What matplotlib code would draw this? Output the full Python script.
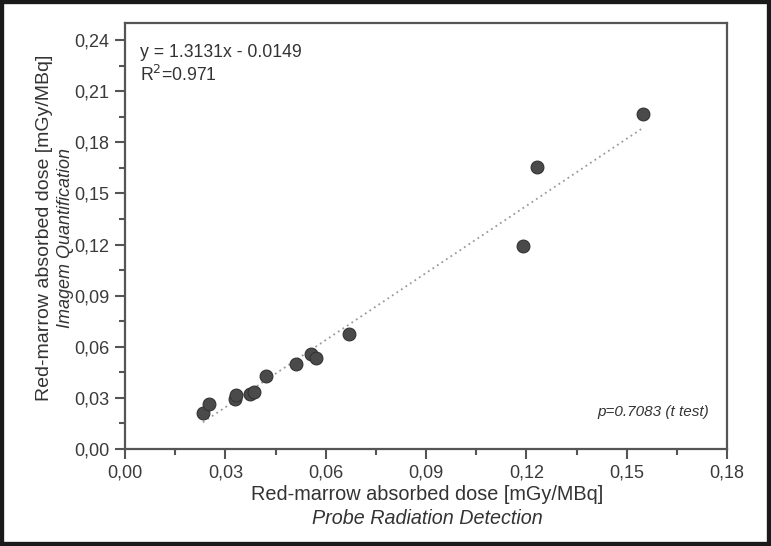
import matplotlib.pyplot as plt
import numpy as np
from matplotlib.patches import Rectangle
from matplotlib.ticker import MultipleLocator, FuncFormatter

plt.rcParams['font.family'] = ['Liberation Sans', 'DejaVu Sans']

# dose values
probe = [0.0233, 0.0251, 0.0330, 0.0333, 0.0374, 0.0386, 0.0423, 0.0511,
         0.0556, 0.0571, 0.0670, 0.1190, 0.1231, 0.1549]
imagem = [0.0211, 0.0264, 0.0295, 0.0315, 0.0323, 0.0334, 0.0431, 0.0496,
          0.0557, 0.0534, 0.0675, 0.1194, 0.1652, 0.1966]
slope, intercept = 1.3131, -0.0149

fig = plt.figure(figsize=(7.71, 5.46), dpi=100)
ax = fig.add_axes([125/771, 1 - 449/546, 602/771, 426/546])

# linha de ajuste
xs = np.array([min(probe), max(probe)])
ax.plot(xs, slope*xs + intercept, linestyle=(0, (1, 2)), color='#9a9a9a', linewidth=1.3)
ax.scatter(probe, imagem, s=85, color='#4a4a4a', edgecolors='#333333', linewidths=0.8, zorder=3)

ax.set_xlim(0, 0.18)
ax.set_ylim(0, 0.25)
ax.xaxis.set_major_locator(MultipleLocator(0.03))
ax.xaxis.set_minor_locator(MultipleLocator(0.015))
ax.yaxis.set_major_locator(MultipleLocator(0.03))
ax.yaxis.set_minor_locator(MultipleLocator(0.015))
fmt = FuncFormatter(lambda v, p: f'{v:.2f}'.replace('.', ','))
ax.xaxis.set_major_formatter(fmt)
ax.yaxis.set_major_formatter(fmt)

for s in ax.spines.values():
    s.set_color('#555555')
    s.set_linewidth(1.6)
ax.tick_params(which='major', direction='out', length=7, width=1.5, color='#555555',
               labelsize=13, labelcolor='#3a3a3a', pad=4)
ax.tick_params(which='minor', direction='out', length=4, width=1.5, color='#555555')

ax.text(0.025, 0.93, 'y = 1.3131x - 0.0149', transform=ax.transAxes, fontsize=12.7,
        color='#333333', va='center')
ax.text(0.025, 0.878, r'R$^2$=0.971', transform=ax.transAxes, fontsize=12.7,
        color='#333333', va='center')
ax.text(0.97, 0.088, 'p=0.7083 (t test)', transform=ax.transAxes, fontsize=11,
        color='#333333', style='italic', ha='right', va='center')

fig.text(427/771, 1 - 495/546, 'Red-marrow absorbed dose [mGy/MBq]', fontsize=14.3,
         color='#333333', ha='center', va='center')
fig.text(427/771, 1 - 518/546, 'Probe Radiation Detection', fontsize=14.2,
         color='#333333', style='italic', ha='center', va='center')
fig.text(45/771, 1 - 228/546, 'Red-marrow absorbed dose [mGy/MBq]', fontsize=14,
         color='#333333', ha='center', va='center', rotation=90)
fig.text(65/771, 1 - 238/546, 'Imagem Quantification', fontsize=13,
         color='#333333', style='italic', ha='center', va='center', rotation=90)

fig.patches.append(Rectangle((0, 0), 1, 1, transform=fig.transFigure, fill=False,
                             edgecolor='#1a1a1a', linewidth=6))

fig.savefig('out.png', dpi=100)
